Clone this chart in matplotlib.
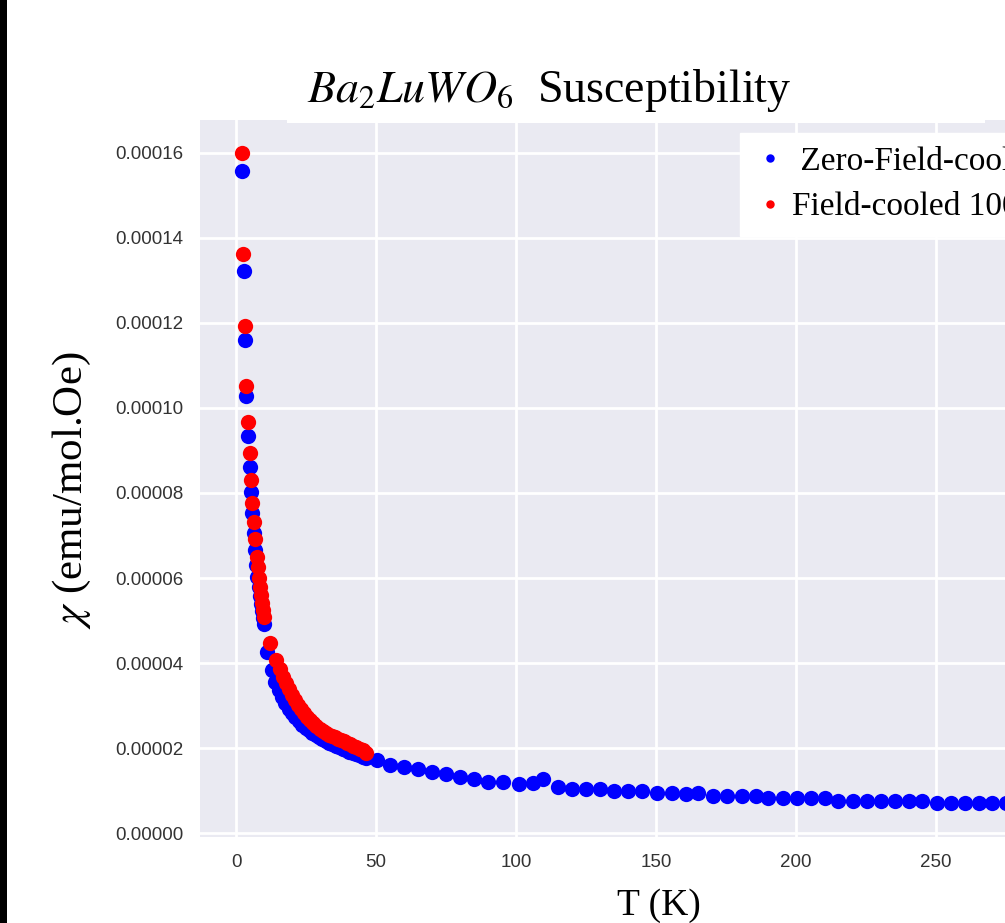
import matplotlib
matplotlib.use("Agg")
import matplotlib.pyplot as plt
from matplotlib.patches import Rectangle
from matplotlib.ticker import FormatStrFormatter

# field-cooled (red)
T_fc = [2.0, 2.6, 3.2, 3.7, 4.3, 4.9, 5.3, 5.8, 6.4, 6.8, 7.3, 7.7, 8.1, 8.5, 8.9, 9.3, 9.7, 10.1,
        12.2, 14.3, 15.5, 16.6, 17.7, 18.8, 19.9, 21.0, 22.1, 23.2, 24.3, 25.4, 26.5, 27.6, 28.7,
        29.8, 30.9, 32.0, 33.1, 34.2, 35.3, 36.4, 37.5, 38.6, 39.7, 40.8, 41.9, 43.0, 44.1, 45.2, 46.3]
chi_fc = [1.600e-4, 1.363e-4, 1.192e-4, 1.051e-4, 9.66e-5, 8.95e-5, 8.30e-5, 7.76e-5, 7.31e-5,
          6.91e-5, 6.50e-5, 6.25e-5, 6.00e-5, 5.80e-5, 5.60e-5, 5.42e-5, 5.25e-5, 5.08e-5,
          4.47e-5, 4.07e-5, 3.85e-5, 3.67e-5, 3.52e-5, 3.38e-5, 3.24e-5, 3.12e-5, 3.01e-5, 2.91e-5,
          2.82e-5, 2.73e-5, 2.65e-5, 2.58e-5, 2.51e-5, 2.45e-5, 2.40e-5, 2.36e-5, 2.32e-5, 2.28e-5,
          2.25e-5, 2.22e-5, 2.19e-5, 2.16e-5, 2.12e-5, 2.09e-5, 2.06e-5, 2.03e-5, 1.99e-5, 1.95e-5,
          1.88e-5]

# zero-field-cooled (blue)
T_zfc = [2.0, 2.7, 3.3, 3.7, 4.4, 5.0, 5.3, 5.8, 6.3, 6.8, 7.2, 7.6, 8.0, 8.4, 8.8, 9.2, 9.6, 10.0,
         11.2, 12.8, 14.0, 15.2, 16.4, 17.6, 18.8, 20.0, 21.2, 22.4, 23.6, 24.8, 26.0, 27.2, 28.4,
         29.6, 30.8, 32.0, 33.2, 34.4, 35.6, 36.8, 38.0, 39.2, 40.4, 41.6, 42.8, 44.0, 45.2, 46.4,
         50.4, 55.0, 60.0, 65.0, 70.0, 75.0, 80.0, 85.0, 90.0, 95.4, 101.0, 106.0, 109.6, 115.0,
         120.0, 125.0, 130.0, 135.0, 140.0, 145.0, 150.4, 155.7, 160.7, 165.0, 170.4, 175.4, 180.7,
         185.7, 190.0, 195.4, 200.4, 205.4, 210.4, 215.0, 220.4, 225.4, 230.4, 235.4, 240.4, 245.0,
         250.4, 255.4, 260.4, 265.4, 270.0, 275.0, 280.0, 285.0, 290.0, 295.0, 300.0]
chi_zfc = [1.557e-4, 1.323e-4, 1.159e-4, 1.029e-4, 9.35e-5, 8.61e-5, 8.02e-5, 7.52e-5, 7.05e-5,
           6.65e-5, 6.30e-5, 6.02e-5, 5.78e-5, 5.58e-5, 5.40e-5, 5.22e-5, 5.06e-5, 4.93e-5,
           4.25e-5, 3.83e-5, 3.55e-5, 3.36e-5, 3.20e-5, 3.06e-5, 2.93e-5, 2.82e-5, 2.72e-5, 2.63e-5,
           2.55e-5, 2.48e-5, 2.42e-5, 2.36e-5, 2.31e-5, 2.26e-5, 2.21e-5, 2.17e-5, 2.13e-5, 2.09e-5,
           2.05e-5, 2.02e-5, 1.98e-5, 1.95e-5, 1.92e-5, 1.89e-5, 1.86e-5, 1.83e-5, 1.80e-5, 1.77e-5,
           1.72e-5, 1.60e-5, 1.55e-5, 1.50e-5, 1.43e-5, 1.39e-5, 1.32e-5, 1.27e-5, 1.20e-5, 1.20e-5,
           1.15e-5, 1.17e-5, 1.27e-5, 1.08e-5, 1.03e-5, 1.03e-5, 1.03e-5, 0.99e-5, 0.99e-5, 0.99e-5,
           0.94e-5, 0.94e-5, 0.93e-5, 0.94e-5, 0.88e-5, 0.88e-5, 0.88e-5, 0.88e-5, 0.83e-5, 0.83e-5,
           0.83e-5, 0.83e-5, 0.83e-5, 0.76e-5, 0.76e-5, 0.76e-5, 0.76e-5, 0.76e-5, 0.76e-5, 0.76e-5,
           0.71e-5, 0.71e-5, 0.71e-5, 0.71e-5, 0.71e-5, 0.70e-5, 0.69e-5, 0.69e-5, 0.68e-5, 0.68e-5,
           0.67e-5]

yticks = [0.0, 0.00002, 0.00004, 0.00006, 0.00008, 0.00010, 0.00012, 0.00014, 0.00016]
xticks = [0, 50, 100, 150, 200, 250, 300]

plt.rcParams['mathtext.fontset'] = 'stix'
serif = 'Liberation Serif'

W, H = 1005, 923
fig = plt.figure(figsize=(W / 100, H / 100), dpi=100)
fig.patch.set_facecolor('white')

# axes runs past the right edge like the cropped screenshot
ax = fig.add_axes([200 / W, 1 - 837 / H, 918 / W, 717 / H])
ax.set_facecolor('#EAEAF2')
for s in ax.spines.values():
    s.set_visible(False)
ax.grid(True, color='white', linewidth=2)
ax.set_axisbelow(True)

ax.plot(T_zfc, chi_zfc, 'o', color='blue', markersize=11, markeredgewidth=0,
        label=' Zero-Field-cooled 1000 Oe')
ax.plot(T_fc, chi_fc, 'o', color='red', markersize=11, markeredgewidth=0,
        label='Field-cooled 1000 Oe')

ax.set_xlim(-12.9, 315)
ax.set_ylim(-0.9e-6, 1.677e-4)
ax.set_xticks(xticks)
ax.set_yticks(yticks)
ax.yaxis.set_major_formatter(FormatStrFormatter('%.5f'))
ax.tick_params(length=0, pad=12, labelsize=13.5, labelcolor='#333333')
for lab in ax.get_xticklabels() + ax.get_yticklabels():
    lab.set_family('Liberation Sans')

ax.set_xlabel('T (K)', fontsize=27, family=serif, labelpad=13)
fig.text(72 / W, 1 - 490 / H, r'$\chi$ (emu/mol.Oe)', fontsize=31, family=serif,
         rotation=90, ha='center', va='center')

leg = ax.legend(loc='upper left', bbox_to_anchor=(740 / W, 1 - 133 / H),
                bbox_transform=fig.transFigure, prop={'family': serif, 'size': 24},
                frameon=True, facecolor='white', edgecolor='white', framealpha=1,
                fancybox=False, borderpad=0.4, handlelength=1.0, handletextpad=0.15,
                markerscale=0.55, numpoints=1, borderaxespad=0, labelspacing=0.45)

# white band behind the title, as in the screenshot
fig.add_artist(Rectangle((287 / W, 1 - 123 / H), 698 / W, 123 / H, transform=fig.transFigure,
                         facecolor='white', edgecolor='none', zorder=1))
fig.text(549 / W, 1 - 90 / H, r'$Ba_2LuWO_6$  Susceptibility', fontsize=33, family=serif,
         ha='center', va='center', zorder=2)

# black strip on the left edge
fig.add_artist(Rectangle((0, 0), 7 / W, 1, transform=fig.transFigure,
                         facecolor='black', edgecolor='none', zorder=3))

fig.savefig('out.png', dpi=100)
